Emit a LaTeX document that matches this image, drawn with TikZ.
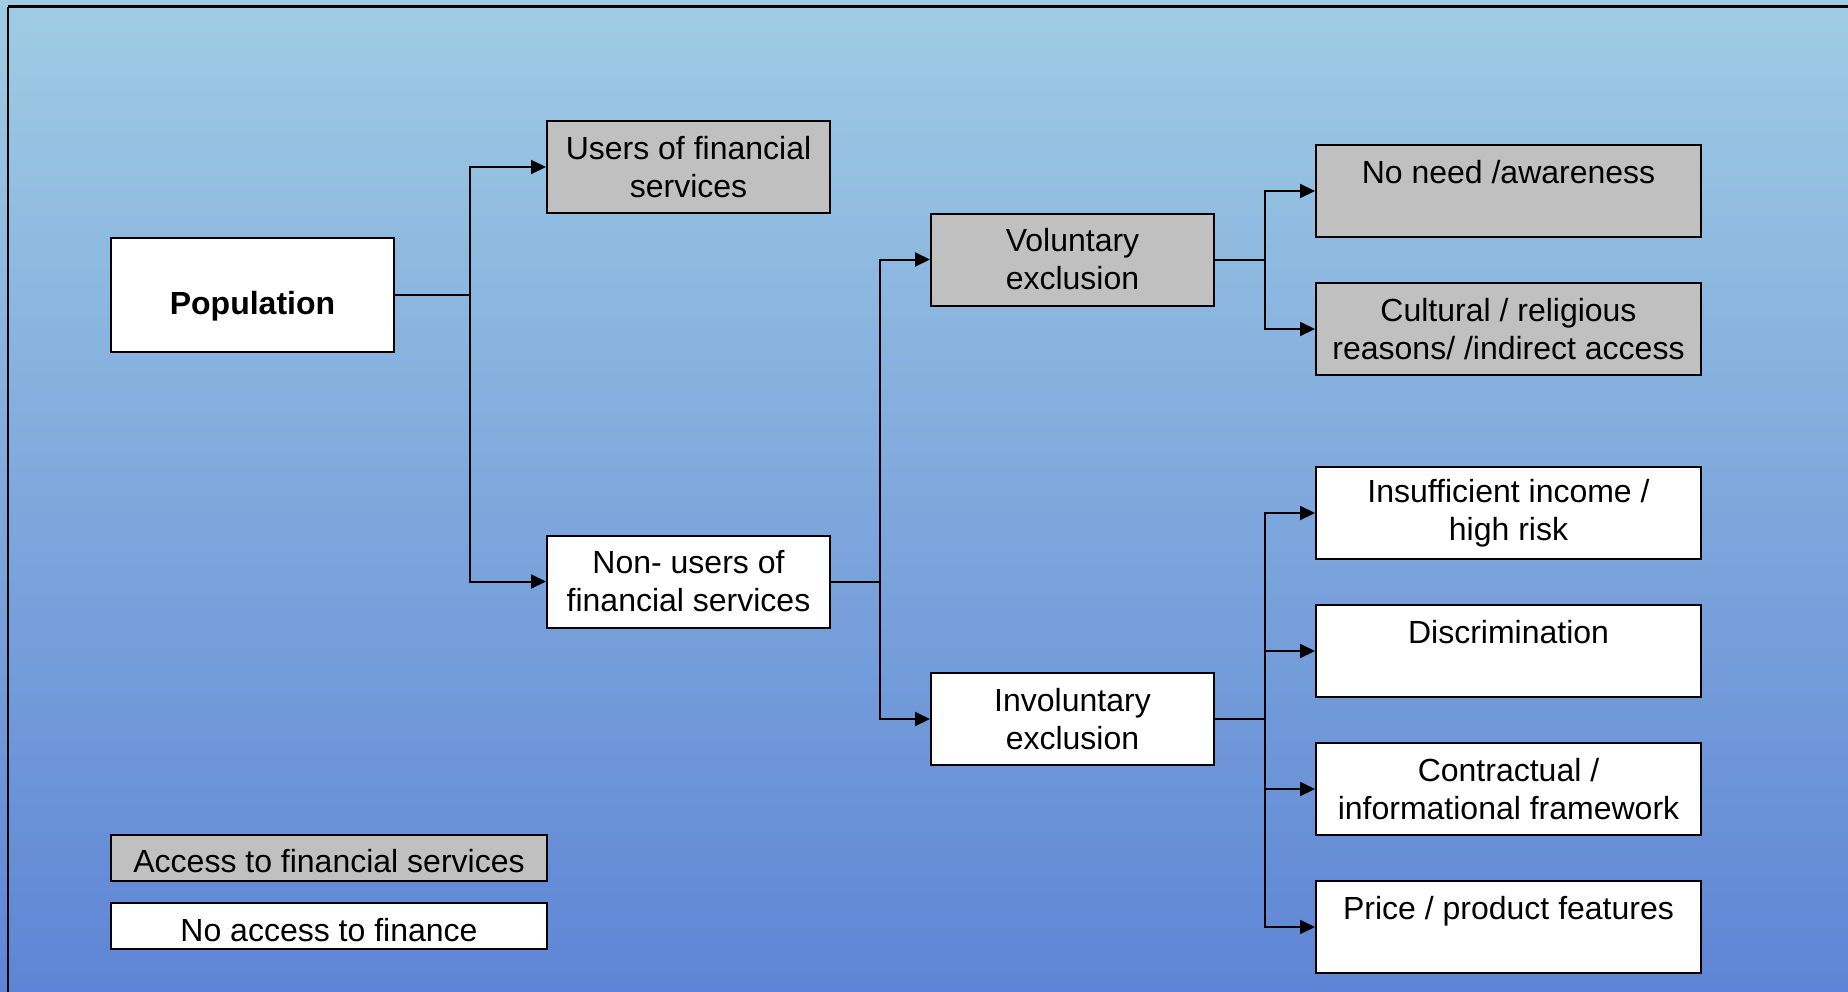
\documentclass[tikz,border=0pt]{standalone}
\usepackage{fontspec}
\setmainfont{Liberation Sans}
\usetikzlibrary{arrows.meta}
\definecolor{bgtop}{HTML}{9FCCE4}
\definecolor{bgmid}{HTML}{8DA3E5}
\definecolor{bgbot}{HTML}{5E85D5}
\definecolor{boxgrey}{HTML}{C0C0C0}
\begin{document}
\begin{tikzpicture}[x=1pt,y=-1pt,
  box/.style={draw=black, line width=2pt, rectangle, align=center, inner sep=0pt,
    font=\fontsize{32}{38}\selectfont, minimum width=283pt, minimum height=92pt},
  grey/.style={box, fill=boxgrey},
  white/.style={box, fill=white},
  wide/.style={minimum width=385pt},
  legend/.style={draw=black, line width=2pt, rectangle, inner sep=0pt,
    font=\fontsize{32}{38}\selectfont, minimum width=436pt, minimum height=46pt,
    text height=30pt, text depth=0pt},
  conn/.style={line width=2pt},
  arr/.style={line width=2pt, -{Triangle[length=15pt,width=14pt]}}
]
\useasboundingbox (0,0) rectangle (1848,991);
\shade[top color=bgtop, middle color=bgmid, bottom color=bgbot] (0,0) rectangle (1848,991);
\draw[line width=2.5pt] (8,6.5) -- (1860,6.5);
\draw[line width=2.5pt] (8,6.5) -- (8,1000);

\node[white, minimum height=114pt, text height=39pt, text depth=0pt,
  font=\fontsize{32}{38}\selectfont\bfseries] (pop) at (252.5,294.5) {Population};
\node[grey] (users) at (688.5,167) {Users of financial\\services};
\node[white] (nonusers) at (688.5,581.5) {Non- users of\\financial services};
\node[grey] (vol) at (1072.5,259.5) {Voluntary\\exclusion};
\node[white] (invol) at (1072.5,719) {Involuntary\\exclusion};
\node[grey, wide] (noneed) at (1508.5,191) {No need /awareness\\\mbox{}};
\node[grey, wide] (cult) at (1508.5,329) {Cultural / religious\\reasons/ /indirect access};
\node[white, wide] (insuf) at (1508.5,513) {Insufficient income /\\high risk};
\node[white, wide] (disc) at (1508.5,651) {Discrimination\\\mbox{}};
\node[white, wide] (contr) at (1508.5,789) {Contractual /\\informational framework};
\node[white, wide] (price) at (1508.5,927) {Price / product features\\\mbox{}};

\node[legend, fill=boxgrey] (legA) at (329,857.5) {Access to financial services};
\node[legend, fill=white] (legB) at (329,926.3) {No access to finance};

\coordinate (j1) at (470,294.5);
\coordinate (j2) at (880,581.5);
\coordinate (j3) at (1265,259.5);
\coordinate (j4) at (1265,719);

\draw[conn] (pop.east) -- (j1);
\draw[arr] (j1) |- (users.west);
\draw[arr] (j1) |- (nonusers.west);

\draw[conn] (nonusers.east) -- (j2);
\draw[arr] (j2) |- (vol.west);
\draw[arr] (j2) |- (invol.west);

\draw[conn] (vol.east) -- (j3);
\draw[arr] (j3) |- (noneed.west);
\draw[arr] (j3) |- (cult.west);

\draw[conn] (invol.east) -- (j4);
\draw[arr] (j4) |- (insuf.west);
\draw[arr] (j4) |- (disc.west);
\draw[arr] (j4) |- (contr.west);
\draw[arr] (j4) |- (price.west);
\end{tikzpicture}
\end{document}
